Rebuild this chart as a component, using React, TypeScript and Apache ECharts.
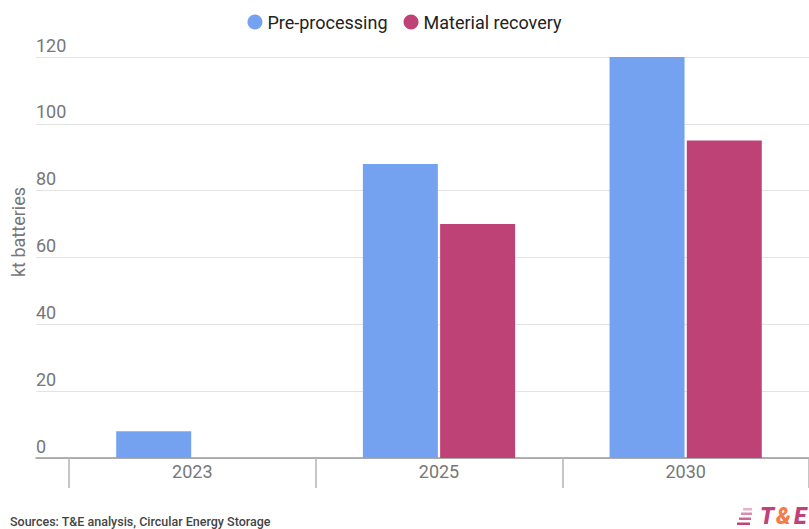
import React, { useEffect, useRef } from "react";
import * as echarts from "echarts";

const categories = ["2023", "2025", "2030"];
const preProcessing = [8, 88, 120];
const materialRecovery = [null, 70, 95];
const yMin = 0;
const yMax = 120;
const yStep = 20;

export default function App() {
  const ref = useRef<HTMLDivElement>(null);
  useEffect(() => {
    document.body.style.margin = "0";
    if (!ref.current) return;
    const chart = echarts.init(ref.current, undefined, { renderer: "svg" });
    const font = "Roboto, 'Noto Sans', sans-serif";
    const logoStyle = {
      fontSize: 23,
      fontWeight: 900,
      fontStyle: "italic",
      fontFamily: font,
      verticalAlign: "middle",
      lineHeight: 20,
    };
    chart.setOption({
      animation: false,
      textStyle: { fontFamily: font },
      legend: {
        top: 8,
        left: "center",
        icon: "circle",
        itemWidth: 15,
        itemHeight: 15,
        itemGap: 16,
        textStyle: { fontSize: 18, color: "#222", fontFamily: font },
        data: ["Pre-processing", "Material recovery"],
      },
      grid: [
        { left: 69, right: -1, top: 57, bottom: 71 },
        { left: 36, right: 0, top: 57, bottom: 71 },
      ],
      xAxis: [
        {
          type: "category",
          gridIndex: 0,
          data: categories,
          axisLine: { show: false },
          axisTick: { show: true, length: 30, lineStyle: { color: "#b3b3b3", width: 1.5 } },
          axisLabel: { color: "#777", fontSize: 18, margin: 4, fontFamily: font },
        },
        {
          type: "category",
          gridIndex: 1,
          data: [""],
          axisLine: { show: true, lineStyle: { color: "#999", width: 1.5 } },
          axisTick: { show: false },
          axisLabel: { show: false },
        },
      ],
      yAxis: [
        { type: "value", gridIndex: 0, min: yMin, max: yMax, interval: yStep, show: false, splitLine: { show: false } },
        {
          type: "value",
          gridIndex: 1,
          min: yMin,
          max: yMax,
          interval: yStep,
          axisLine: { show: false },
          axisTick: { show: false },
          splitLine: { show: true, lineStyle: { color: "#e3e3e3", width: 1 } },
          axisLabel: {
            inside: true,
            margin: 0,
            color: "#777",
            fontSize: 18,
            fontFamily: font,
            verticalAlign: "bottom",
            lineHeight: 18,
            padding: [0, 0, 3, 0],
          },
        },
      ],
      series: [
        {
          name: "Pre-processing",
          type: "bar",
          xAxisIndex: 0,
          yAxisIndex: 0,
          data: preProcessing,
          barWidth: 75,
          barGap: "3%",
          itemStyle: { color: "#74A2F0" },
        },
        {
          name: "Material recovery",
          type: "bar",
          xAxisIndex: 0,
          yAxisIndex: 0,
          data: materialRecovery,
          barWidth: 75,
          barGap: "3%",
          itemStyle: { color: "#BF4276" },
        },
      ],
      graphic: [
        {
          type: "text",
          x: 18,
          y: 232,
          rotation: Math.PI / 2,
          style: {
            text: "kt batteries",
            fontSize: 18,
            fill: "#777",
            fontFamily: font,
            align: "center",
            verticalAlign: "middle",
          },
        },
        {
          type: "text",
          x: 10,
          y: 521,
          style: {
            text: "Sources: T&E analysis, Circular Energy Storage",
            fontSize: 12.5,
            fontWeight: 500,
            fill: "#444",
            fontFamily: font,
            verticalAlign: "middle",
          },
        },
        { type: "rect", shape: { x: 743, y: 508, width: 9, height: 2.5 }, style: { fill: "#C0427A", opacity: 0.4 } },
        { type: "rect", shape: { x: 741, y: 512.5, width: 11, height: 2.5 }, style: { fill: "#C0427A", opacity: 0.6 } },
        { type: "rect", shape: { x: 739, y: 517.5, width: 12, height: 2.5 }, style: { fill: "#C0427A", opacity: 0.8 } },
        { type: "rect", shape: { x: 737, y: 522.5, width: 13, height: 2.5 }, style: { fill: "#C0427A", opacity: 1 } },
        { type: "text", x: 760, y: 516, style: { ...logoStyle, text: "T", fill: "#C0427A" } },
        { type: "text", x: 776, y: 516, style: { ...logoStyle, text: "&", fill: "#F47C48" } },
        { type: "text", x: 794, y: 516, style: { ...logoStyle, text: "E", fill: "#C0427A" } },
      ],
    });
    return () => chart.dispose();
  }, []);
  return <div ref={ref} style={{ width: 809, height: 529 }} />;
}
